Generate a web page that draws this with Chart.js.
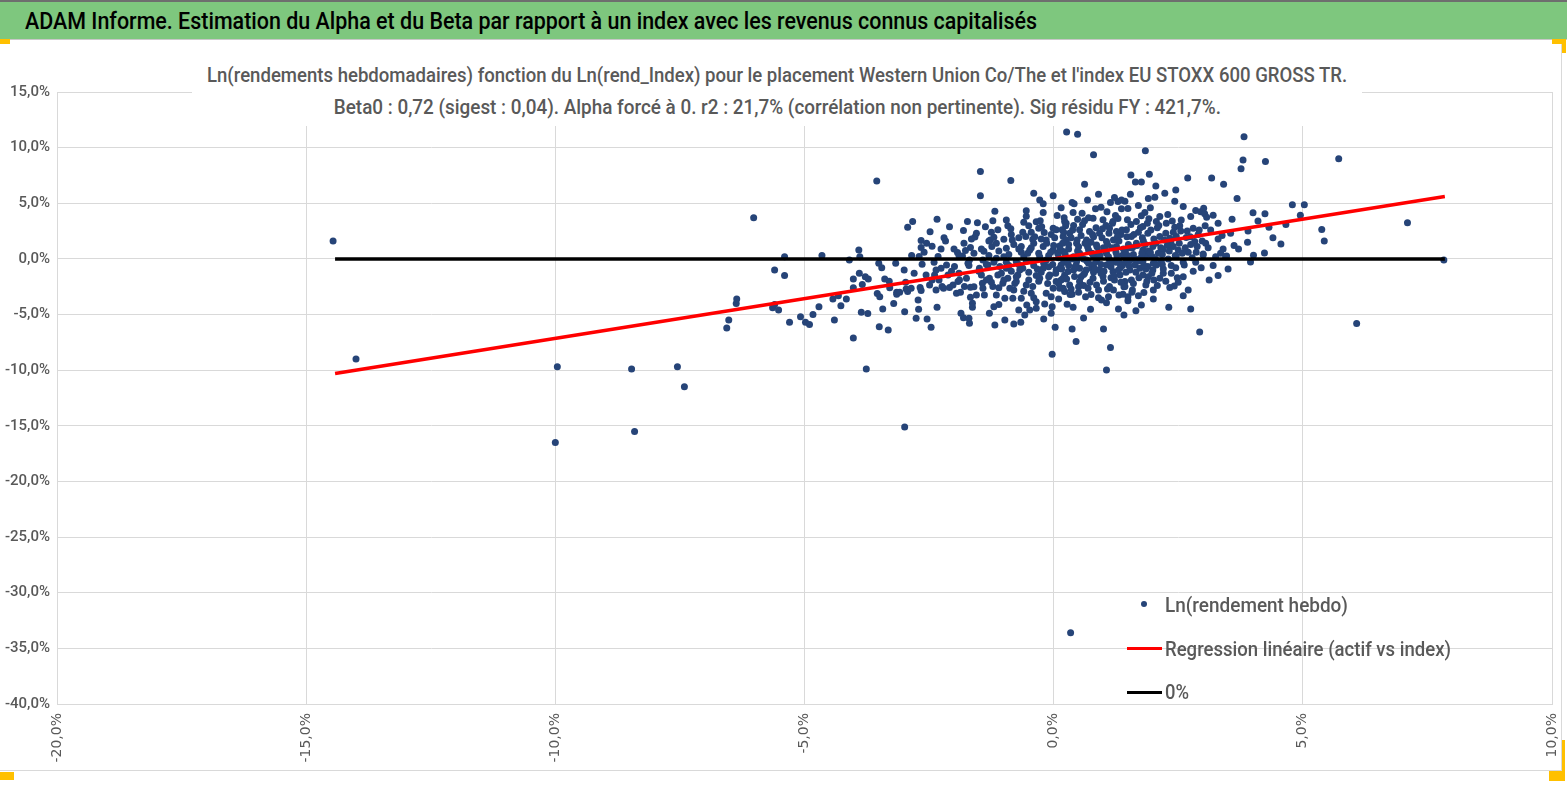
<!DOCTYPE html>
<html lang="fr">
<head>
<meta charset="utf-8">
<title>ADAM Informe - Alpha et Beta</title>
<script src="https://cdn.jsdelivr.net/npm/chart.js@4.4.1/dist/chart.umd.min.js"></script>
<style>
  html, body { margin: 0; padding: 0; background: #fff; }
  body { width: 1567px; height: 787px; position: relative; overflow: hidden; font-family: Roboto, "Noto Sans", sans-serif; }
  #entete { position: absolute; left: 0; top: 0; width: 1567px; height: 37px; background: #7ec77e; border-top: 2px solid #6e6e6e; border-bottom: 1px solid #c8c8c8; }
  #entete span { position: absolute; left: 25px; top: 5px; font-size: 24px; font-weight: 500; line-height: 28px; color: #000; white-space: nowrap; transform-origin: left center; }
  #cadre { position: absolute; left: 0; top: 43px; width: 1561px; height: 727px; border-right: 1px solid #d9d9d9; border-bottom: 1px solid #d9d9d9; }
  #zone { position: absolute; left: 0; top: 44px; width: 1567px; height: 743px; }
  #titre { position: absolute; left: 192px; top: 59px; width: 1170px; height: 67px; background: #fff; color: #595959; }
  .ligne { height: 32px; line-height: 32px; white-space: nowrap; display: flex; justify-content: center; }
  .ligne span { display: inline-block; font-size: 21px; font-weight: 500; transform-origin: center center; }
  .leg-texte { position: absolute; left: 1165px; height: 28px; line-height: 28px; font-size: 21px; font-weight: 500; color: #595959; white-space: nowrap; transform-origin: left center; }
  .leg-trait { position: absolute; left: 1127px; width: 35px; height: 3px; }
  .poignee { position: absolute; background: #ffc000; }
</style>
</head>
<body>
<div id="entete"><span id="texteEntete">ADAM Informe. Estimation du Alpha et du Beta par rapport à un index avec les revenus connus capitalisés</span></div>
<div id="cadre"></div>
<div id="zone"><canvas id="graphique"></canvas></div>
<div id="titre">
  <div class="ligne"><span id="titre1">Ln(rendements hebdomadaires) fonction du Ln(rend_Index) pour le placement Western Union Co/The et l'index EU STOXX 600 GROSS TR.</span></div>
  <div class="ligne"><span id="titre2">Beta0 : 0,72 (sigest : 0,04). Alpha forcé à 0. r2 : 21,7% (corrélation non pertinente). Sig résidu FY : 421,7%.</span></div>
</div>
<div id="legende">
  <div style="position:absolute;left:1141px;top:601px;width:6px;height:6px;border-radius:50%;background:#264478;"></div>
  <div class="leg-texte" id="leg1" style="top:591px;">Ln(rendement hebdo)</div>
  <div class="leg-trait" style="top:647px;background:#ff0000;"></div>
  <div class="leg-texte" id="leg2" style="top:635px;">Regression linéaire (actif vs index)</div>
  <div class="leg-trait" style="top:691px;background:#000;"></div>
  <div class="leg-texte" id="leg3" style="top:678px;">0%</div>
</div>
<div class="poignee" style="left:0;top:39px;width:10px;height:5px;"></div>
<div class="poignee" style="left:1552px;top:39px;width:14px;height:5px;"></div>
<div class="poignee" style="left:1562px;top:39px;width:4px;height:14px;"></div>
<div class="poignee" style="left:0;top:772px;width:14px;height:8px;"></div>
<div class="poignee" style="left:1562px;top:740px;width:3px;height:32px;"></div>
<div class="poignee" style="left:1549px;top:771px;width:16px;height:10px;"></div>

<script>
// Rendements hebdomadaires : [ln(rend_Index) %, ln(rend actif) %]
const pointsHebdo = [
  [-14.46, 1.6], [-14.0, -9.0], [-9.96, -9.7], [-10.0, -16.5], [-8.47, -9.9], [-8.41, -15.5],
  [-7.55, -9.7], [-7.41, -11.5], [-2.99, -15.1], [0.34, -33.6], [7.83, -0.1], [6.08, -5.8],
  [5.72, 9.0], [7.1, 3.24], [5.38, 2.64], [5.43, 1.62], [-6.02, 3.7], [-3.55, 7.0],
  [-0.03, -8.57], [1.06, -9.98],
  [-6.56, -6.2], [-6.52, -5.5], [-6.37, -4.0], [-6.36, -3.6], [-5.64, -4.4], [-5.6, -4.1],
  [-5.6, -1.0], [-5.52, -4.6], [-5.4, 0.2], [-5.4, -1.5], [-5.3, -5.7], [-5.08, -5.2],
  [-4.98, -5.7], [-4.9, -5.9], [-4.83, -5.0], [-4.71, -4.3], [-4.65, 0.3], [-4.43, -3.6],
  [-4.4, -5.5], [-4.32, -3.3], [-4.27, -4.2], [-4.16, -3.6], [-4.1, -0.1], [-4.02, -1.8],
  [-4.02, -2.6], [-4.02, -7.1], [-3.91, 0.8], [-3.89, 0.2], [-3.9, -1.3], [-3.84, -2.3],
  [-3.86, -4.8], [-3.78, -1.6], [-3.72, -1.8], [-3.73, -4.9], [-3.76, -9.9], [-3.51, -0.4],
  [-3.45, -0.8], [-3.39, -1.8], [-3.54, -3.1], [-3.49, -3.4], [-3.43, -4.5], [-3.5, -6.1],
  [-3.32, -6.4], [-3.29, -2.6], [-3.21, -4.0], [-3.17, -0.4], [-3.15, -3.0],
  [-1.47, 7.85], [-1.47, 5.67], [-0.86, 7.04], [-0.01, 5.67], [-0.28, 5.3], [-0.21, 4.95],
  [-2.93, 2.85], [-2.83, 3.36], [-2.34, 3.57], [-2.09, 2.88], [-2.48, 2.43], [-2.66, 1.65],
  [-2.66, 1.02], [-2.44, 1.14], [-2.17, 1.62], [-2.26, 0.9], [-1.81, 2.55], [-1.73, 3.36],
  [-1.53, 3.24], [-1.37, 2.88], [-1.65, 1.8], [-1.58, 1.98], [-1.93, 0.57], [-1.77, 0.75],
  [-1.67, 1.02], [-1.4, 0.69], [-1.18, 4.29], [-1.22, 3.42], [-1.12, 2.61], [-1.27, 1.71],
  [-1.2, 1.95], [-1.24, 1.11], [-0.92, 2.97], [-0.86, 2.7], [-1.0, 1.77], [-0.83, 1.71],
  [-0.95, 0.96], [-0.55, 4.32], [-0.55, 3.84], [-0.5, 2.97], [-0.35, 3.33], [-0.27, 3.42],
  [-0.21, 4.17], [-0.62, 2.4], [-0.56, 2.01], [-0.3, 2.76], [-0.19, 2.37], [-0.01, 2.76],
  [0.05, 2.61], [-0.42, 1.77], [-0.15, 1.71], [0.22, 3.36], [0.24, 2.97], [0.19, 2.01],
  [-0.65, 1.11], [-0.48, 0.81], [-0.21, 1.11], [-0.01, 0.81], [0.12, 1.17], [-2.7, 0.21],
  [-2.32, 0.21], [-1.83, 0.27],
  [0.8, 9.35], [1.84, 9.71], [0.62, 6.72], [1.55, 7.53], [1.64, 6.92], [1.76, 6.92],
  [1.92, 7.61], [2.05, 6.56], [2.23, 5.9], [1.9, 5.42], [2.03, 5.54], [2.43, 5.18],
  [2.69, 7.28], [3.17, 7.28], [3.41, 6.72], [3.68, 5.42], [0.37, 5.06], [0.41, 4.95],
  [0.68, 5.3], [0.84, 4.5], [0.95, 4.65], [1.14, 5.06], [1.22, 5.51], [1.29, 5.15],
  [1.36, 5.3], [1.43, 5.18], [1.54, 5.81], [1.07, 4.23], [1.36, 4.5], [1.49, 4.53],
  [1.94, 4.59], [1.83, 4.17], [0.21, 3.69], [0.39, 4.17], [0.25, 3.21], [0.48, 3.57],
  [0.62, 3.42], [0.79, 3.66], [0.99, 3.51], [1.19, 3.36], [1.29, 3.63], [1.48, 3.51],
  [1.66, 3.36], [1.76, 3.87], [2.06, 3.36], [2.13, 3.81], [2.26, 3.21], [2.43, 2.85],
  [2.53, 2.97], [2.75, 3.81], [2.85, 4.35], [2.95, 4.23], [3.01, 4.56], [3.03, 4.05],
  [3.07, 3.75], [3.2, 3.93], [3.04, 2.97], [2.8, 2.76], [3.58, 3.57], [0.17, 2.61],
  [0.32, 2.31], [0.52, 2.61], [0.72, 2.46], [0.92, 2.31], [1.12, 2.76], [1.26, 2.46],
  [1.46, 2.61], [1.56, 2.01], [1.79, 2.91], [1.89, 2.31], [2.13, 2.01], [2.33, 1.86],
  [2.46, 2.01], [2.66, 1.92], [2.83, 1.56], [2.88, 1.11], [0.25, 1.71], [0.46, 1.41],
  [0.66, 1.71], [0.86, 1.26], [1.06, 1.56], [1.26, 1.11], [1.66, 1.41], [1.79, 0.81],
  [1.99, 1.11], [2.19, 0.81], [2.4, 1.11], [3.0, 0.45], [3.47, 0.27], [3.71, 0.9],
  [0.19, 0.66], [0.52, 0.51], [0.79, 0.36], [1.06, 0.51], [1.39, 0.36], [1.86, 0.36],
  [2.46, 0.27],
  [0.26, 11.4], [0.48, 11.2], [3.82, 10.97], [3.8, 8.9], [3.76, 8.1], [2.93, -6.57],
  [2.75, -4.5], [3.3, -1.5], [3.45, 0.2], [1.41, -5.04], [1.14, -7.97], [0.45, -7.43],
  [0.37, -6.3], [0.03, -6.14], [1.0, -6.3], [0.74, -4.53], [0.96, -3.69], [1.06, -3.93],
  [1.65, -4.65], [1.76, -4.14], [2.31, -4.34],
  [-2.64, -0.48], [-3.15, -3.17], [-3.09, -3.0], [-2.96, -2.7], [-2.97, -2.1], [-2.72, -3.69],
  [-2.71, -4.53], [-2.76, -5.34], [-2.99, -4.74], [-2.54, -5.4], [-2.46, -6.14], [-2.68, -2.58],
  [-2.66, -2.85], [-2.49, -2.34], [-2.34, -4.34], [-2.44, -1.89], [-2.39, -1.44], [-2.36, -0.99],
  [-2.26, -0.84], [-2.21, -2.63], [-2.24, -2.49], [-2.09, -2.58], [-2.02, -2.34], [-1.92, -2.04],
  [-1.89, -1.89], [-1.95, -3.09], [-1.87, -3.0], [-1.79, -2.49], [-1.67, -2.55], [-1.67, -3.44],
  [-1.63, -3.98], [-1.63, -4.34], [-1.86, -4.88], [-1.81, -5.28], [-1.7, -5.34], [-1.69, -5.78],
  [-2.15, -0.54], [-1.99, -0.69], [-1.72, -0.39], [-1.69, -0.09], [-1.49, -0.84], [-1.45, -1.44],
  [-1.43, -2.19], [-1.42, -2.63], [-1.39, -3.24], [-1.29, -4.88], [-1.2, -4.29], [-1.18, -5.94],
  [-1.32, -0.54], [-1.29, -1.74], [-1.22, -2.49], [-1.15, -3.24], [-1.12, -1.44], [-1.02, -2.19],
  [-0.98, -5.49], [-1.08, -0.69], [-0.95, -0.84], [-0.88, -2.63], [-0.92, -1.74], [-0.8, -5.85],
  [-0.66, -5.7], [-0.82, -3.54], [-0.75, -2.04], [-0.72, -1.44], [-0.65, -3.54], [-0.58, -5.04],
  [-0.54, -4.14], [-0.48, -4.59], [-0.62, -0.84], [-0.55, -2.34], [-0.45, -3.09], [-0.42, -2.49],
  [-0.35, -3.84], [-0.35, -4.43], [-0.18, -4.05], [-0.05, -4.88], [-0.03, -4.29], [-0.15, -3.09],
  [-0.01, -2.63], [-0.28, -1.74], [-0.21, -0.84], [-0.08, -1.44], [0.05, -2.04], [0.19, -2.63],
  [0.27, -4.08], [0.12, -0.84], [0.22, -1.44], [-1.42, -0.09], [-1.15, 0.06], [-0.75, -0.24],
  [-0.42, -0.24], [-0.15, -0.09], [-2.56, -1.44], [-2.93, -2.92], [-2.86, -2.63], [-2.36, -2.79],
  [-2.12, -1.44], [-1.75, -1.74], [-1.55, -3.24], [-0.98, -3.54], [-0.8, -2.79],
  [0.39, -4.34], [0.37, -3.17], [0.64, -3.39], [1.31, -3.24], [1.39, -3.17], [1.49, -3.39],
  [1.49, -3.75], [1.58, -2.79], [1.81, -3.03], [1.85, -2.34], [2.01, -1.89], [2.13, -1.74],
  [2.33, -2.58], [2.42, -2.43], [2.36, -0.6], [2.62, -0.54], [3.0, 0.36], [2.16, -0.18],
  [2.06, -0.54], [1.99, -0.99], [1.89, -0.69], [1.79, -1.44], [1.73, -0.84], [1.63, -0.54],
  [1.56, -1.89], [1.53, -0.99], [1.43, -2.04], [1.43, -2.49], [1.33, -1.44], [1.22, -1.89],
  [1.19, -1.14], [1.12, -2.49], [1.06, -0.54], [0.99, -1.59], [0.92, -0.99], [0.86, -2.34],
  [0.79, -1.74], [0.76, -0.84], [0.69, -2.63], [0.62, -1.29], [0.52, -2.04], [0.52, -0.84],
  [0.42, -1.59], [0.32, -2.34], [0.29, -1.14], [0.22, -2.92], [0.19, -1.74], [0.15, -0.54],
  [0.25, -0.09], [0.46, -0.24], [0.66, -0.09], [0.86, -0.24], [1.12, -0.09], [1.33, -0.39],
  [1.53, -0.09], [1.79, -0.24], [0.12, -2.63],
  [4.25, 8.75], [4.0, 4.14], [4.24, 4.05], [4.79, 4.86], [5.03, 4.86], [4.95, 3.93],
  [4.66, 3.09], [4.32, 2.85], [3.89, 1.5], [4.01, 0.33], [3.95, -0.27], [4.23, 0.54],
  [4.56, 1.35],
  [-0.9, 0.4], [-0.7, 0.9], [-0.6, 0.2], [-0.4, 1.4], [-0.3, 0.5], [-0.2, -0.4],
  [-0.1, 0.3], [0.0, 1.2], [0.1, 0.1], [0.2, -0.3], [0.3, 0.9], [0.35, 1.9],
  [0.4, 0.2], [0.45, -0.6], [0.5, 1.1], [0.55, 2.1], [0.6, 0.0], [0.65, -1.0],
  [0.7, 0.8], [0.75, 1.5], [0.8, -0.5], [0.85, 2.8], [0.9, 0.6], [0.95, -1.3],
  [1.0, 1.0], [1.05, 3.0], [1.1, 0.2], [1.15, -0.7], [1.2, 1.7], [1.25, 0.6],
  [1.3, -1.0], [1.35, 2.2], [1.4, 0.9], [1.45, -0.3], [1.5, 1.3], [1.55, 3.1],
  [1.6, 0.4], [1.65, -1.2], [1.7, 2.4], [1.75, 0.1], [1.8, 1.6], [1.85, -0.9],
  [1.9, 0.7], [1.95, 2.6], [2.0, -0.4], [2.05, 1.4], [2.1, 0.5], [2.2, -1.3],
  [2.25, 2.3], [2.3, 0.0], [2.35, 1.5], [2.45, -0.8], [2.5, 0.8], [2.55, 2.5],
  [2.6, -1.6], [2.7, 0.6], [2.75, 1.3], [2.85, -0.3], [2.9, 2.2], [3.1, 1.0],
  [3.2, -0.6], [3.3, 1.8], [3.4, 0.9], [3.55, 2.3], [-0.85, -1.1], [-0.7, -0.5],
  [-0.6, -2.9], [-0.5, -1.2], [-0.4, -0.6], [-0.3, -2.0], [-0.25, -1.2], [-0.1, -0.7],
  [-0.05, -3.4], [0.05, -1.0], [0.1, -3.6], [0.15, -1.9], [0.3, -0.6], [0.35, -2.7],
  [0.4, -1.0], [0.5, -3.0], [0.55, -1.6], [0.6, -2.4], [0.7, -0.4], [0.75, -3.2],
  [0.8, -1.2], [0.9, -2.8], [0.95, -0.5], [1.0, -2.0], [1.1, -3.4], [1.15, -1.7],
  [1.2, -2.8], [1.25, -0.3], [1.35, -2.1], [1.45, -1.2], [1.6, -2.2], [1.7, -3.3],
  [1.9, -1.6], [2.0, -2.8], [2.2, -0.9], [2.5, -2.1], [-1.6, 0.5], [-1.5, -1.1],
  [-1.3, 0.3], [-1.25, -2.1], [-1.1, 0.7], [-1.05, -1.3], [-0.95, -0.3], [-0.8, 1.3],
  [-0.75, -1.6], [-0.65, 0.6], [-0.55, -0.2], [-0.45, 2.4], [-0.35, -1.5], [-0.25, 1.8],
  [-0.12, -2.2], [-0.05, 2.2], [0.08, 0.5], [0.18, 1.4], [0.28, -0.2], [0.38, 2.6],
  [0.48, 0.7], [0.58, 3.1], [0.68, 1.1], [0.78, 2.2], [0.88, 0.1], [0.98, 2.7],
  [1.08, 1.3], [1.18, 3.2], [1.28, 2.0], [1.38, -0.6], [1.48, 0.3], [1.58, 1.0],
  [1.68, -0.2], [1.78, 1.9], [1.88, 3.2], [1.98, 0.2], [2.08, 2.8], [2.18, 0.4],
  [2.28, 1.2], [2.38, 3.4], [2.58, 0.5], [2.68, 2.5], [2.78, 0.1], [2.98, 1.6],
  [3.15, 2.6], [3.35, 0.5], [-2.0, 0.9], [-1.9, -1.3], [-1.8, 1.4], [-1.7, -0.6],
  [-1.55, 2.3], [-1.35, -0.5], [-1.15, 1.4], [-1.0, -1.9], [-2.2, 1.9], [-2.4, -0.3],
  [-2.8, -1.3], [-2.6, 0.6],
  [-1.45, 0.9], [-1.3, 1.6], [-1.2, -0.3], [-1.1, -2.6], [-1.0, 0.2], [-0.9, -0.6],
  [-0.85, 2.2], [-0.78, -2.2], [-0.7, 1.9], [-0.68, -1.0], [-0.6, 3.3], [-0.52, 0.5],
  [-0.5, -1.9], [-0.45, 1.0], [-0.4, -3.5], [-0.38, 2.0], [-0.33, -0.9], [-0.28, 0.2],
  [-0.24, 2.9], [-0.18, -0.2], [-0.14, 1.4], [-0.1, -1.6], [-0.06, 0.6], [-0.02, -0.5],
  [0.02, 1.9], [0.04, -1.3], [0.07, 3.9], [0.1, -2.2], [0.13, 0.9], [0.16, -0.9],
  [0.2, 2.4], [0.23, 0.4], [0.26, -1.8], [0.3, 1.3], [0.33, -3.2], [0.36, 0.0],
  [0.4, 3.0], [0.43, -0.7], [0.47, 1.7], [0.5, -2.5], [0.53, 0.3], [0.57, 4.1],
  [0.6, -1.4], [0.63, 1.4], [0.67, -0.2], [0.7, 3.7], [0.73, -2.1], [0.77, 0.5],
  [0.8, 2.0], [0.83, -0.9], [0.87, 1.1], [0.9, -3.5], [0.93, 0.3], [0.97, 1.9],
  [1.01, -1.1], [1.04, 0.8], [1.08, -2.7], [1.11, 2.3], [1.14, -0.3], [1.17, 1.0],
  [1.21, -1.5], [1.24, 3.9], [1.27, 0.3], [1.31, 1.6], [1.34, -0.8], [1.37, 2.6],
  [1.41, -2.5], [1.44, 0.7], [1.47, 2.0], [1.51, -0.6], [1.54, 1.0], [1.57, -3.0],
  [1.61, 2.2], [1.64, 0.0], [1.67, 1.2], [1.71, -1.7], [1.74, 2.8], [1.77, 0.5],
  [1.81, -0.6], [1.84, 1.3], [1.87, -2.0], [1.91, 3.6], [1.94, 0.6], [1.97, -1.3],
  [2.01, 1.8], [2.04, 0.0], [2.08, -2.4], [2.11, 3.0], [2.15, 1.0], [2.18, -0.5],
  [2.22, 1.7], [2.25, -2.0], [2.29, 4.0], [2.32, 0.7], [2.36, -1.3], [2.4, 2.4],
  [2.44, 0.3], [2.48, -1.7], [2.52, 1.4], [2.56, 3.5], [2.6, -0.3], [2.64, 1.0],
  [2.7, -2.8], [2.74, 2.0], [2.8, -1.1], [2.86, 0.6], [2.92, 2.6], [2.96, -0.8],
  [3.05, 1.4], [3.12, -1.9], [3.25, 0.2], [3.38, 2.1], [3.5, -0.9], [3.62, 1.2],
  [-1.6, -2.5], [-1.9, 0.3], [-2.05, -1.1], [-2.3, -1.9], [-2.55, 1.4], [-1.35, -1.9],
  [-1.1, -4.1], [-0.7, -4.6], [-0.2, -5.4], [0.6, -5.3], [1.3, -4.5], [2.0, -3.6],
  [2.6, -3.3], [-3.0, -1.0], [-3.3, -2.0], [-2.85, 0.3], [-1.25, 2.4], [-0.95, 3.5],
  [0.9, 5.8], [1.7, 4.8], [2.6, 4.7], [2.45, 6.2], [0.15, 4.6], [-0.4, 5.9],
  [3.3, 3.2], [3.9, 2.5], [4.4, 1.9], [4.1, 3.4]
];

// Droite de régression (Beta0 = 0,72, alpha forcé à 0) : extrémités lues
const droiteRegression = [[-14.42, -10.3], [7.85, 5.6]];
// Ligne 0 %
const ligneZero = [[-14.42, 0], [7.85, 0]];

// Graduations
const graduationsX = [-20, -15, -10, -5, 0, 5, 10];
const graduationsY = [-40, -35, -30, -25, -20, -15, -10, -5, 0, 5, 10, 15];

function formatPourcent(v) {
  return v.toFixed(1).replace(".", ",") + "%";
}

function enPoints(liste) {
  return liste.map(([x, y]) => ({ x: x, y: y }));
}

const grille = { color: "#d9d9d9", lineWidth: 1, drawTicks: false };

new Chart(document.getElementById("graphique"), {
  type: "scatter",
  data: {
    datasets: [
      {
        label: "Ln(rendement hebdo)",
        data: enPoints(pointsHebdo),
        backgroundColor: "#264478",
        borderWidth: 0,
        pointRadius: 3.5,
        order: 3,
      },
      {
        label: "Regression linéaire (actif vs index)",
        data: enPoints(droiteRegression),
        showLine: true,
        borderColor: "#ff0000",
        borderWidth: 3.5,
        pointRadius: 0,
        order: 2,
      },
      {
        label: "0%",
        data: enPoints(ligneZero),
        showLine: true,
        borderColor: "#000000",
        borderWidth: 3.5,
        pointRadius: 0,
        order: 1,
      },
    ],
  },
  options: {
    responsive: true,
    maintainAspectRatio: false,
    animation: false,
    layout: { padding: { top: 48, right: 15, bottom: 13, left: 0 } },
    plugins: {
      legend: { display: false },
      title: { display: false },
      tooltip: { enabled: false },
    },
    scales: {
      x: {
        type: "linear",
        min: -20,
        max: 10,
        afterBuildTicks: (s) => { s.ticks = graduationsX.map((v) => ({ value: v })); },
        afterFit: (s) => { s.height = 70; s.paddingLeft = 0; s.paddingRight = 0; },
        grid: grille,
        border: { color: "#d9d9d9" },
        ticks: {
          callback: formatPourcent,
          minRotation: 90,
          maxRotation: 90,
          padding: 9,
          color: "#595959",
          font: { family: "'DejaVu Sans', Verdana, sans-serif", size: 14 },
        },
      },
      y: {
        type: "linear",
        min: -40,
        max: 15,
        afterBuildTicks: (s) => { s.ticks = graduationsY.map((v) => ({ value: v })); },
        afterFit: (s) => { s.width = 57; s.paddingTop = 0; s.paddingBottom = 0; },
        grid: grille,
        border: { color: "#d9d9d9" },
        ticks: {
          callback: formatPourcent,
          padding: 7,
          color: "#595959",
          font: { family: "Roboto, sans-serif", size: 15, weight: "500" },
        },
      },
    },
  },
});

// Ajuste la largeur des textes HTML à celle du modèle
function ajusterLargeur(id, largeur) {
  const el = document.getElementById(id);
  const w = el.getBoundingClientRect().width;
  if (w > 0) el.style.transform = "scaleX(" + (largeur / w).toFixed(4) + ")";
}
ajusterLargeur("texteEntete", 1012);
ajusterLargeur("titre1", 1140);
ajusterLargeur("titre2", 887);
ajusterLargeur("leg1", 183);
ajusterLargeur("leg2", 286);
ajusterLargeur("leg3", 24);
</script>
</body>
</html>
